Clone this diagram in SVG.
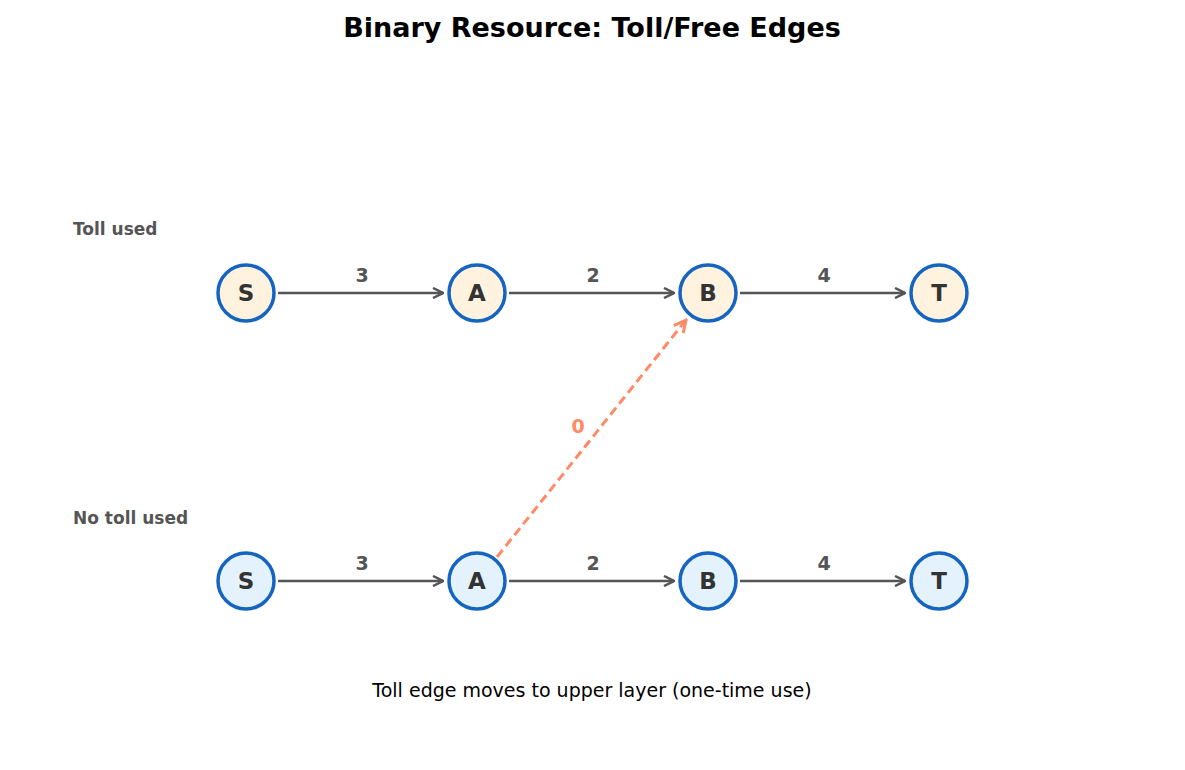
<svg xmlns="http://www.w3.org/2000/svg" width="1185" height="770" viewBox="0 0 1185 770">
<style>
text{font-family:"DejaVu Sans",sans-serif}
.n circle{stroke:#1565C0;stroke-width:3.5}
.up circle{fill:#FFF3E0}.lo circle{fill:#E3F2FD}
.n text{font-size:23px;font-weight:bold;fill:#333;text-anchor:middle;dominant-baseline:central}
.e{stroke:#555;stroke-width:2.5;fill:none;marker-end:url(#a)}
.el{font-size:19px;font-weight:bold;fill:#555;text-anchor:middle}
.ly{font-size:17px;font-weight:bold;fill:#555}
</style>
<defs>
<marker id="a" viewBox="0 0 10 10" refX="9" refY="5" markerWidth="5" markerHeight="5" orient="auto"><path d="M1,1 L9,5 L1,9" fill="none" stroke="#555" stroke-width="2"/></marker>
<marker id="b" viewBox="0 0 10 10" refX="9" refY="5" markerWidth="5" markerHeight="5" orient="auto"><path d="M1,1 L9,5 L1,9" fill="none" stroke="#FF8A65" stroke-width="2"/></marker>
</defs>
<rect width="1185" height="770" fill="#fff"/>
<text x="592" y="37" font-size="27" font-weight="bold" text-anchor="middle" fill="#000">Binary Resource: Toll/Free Edges</text>
<text class="ly" x="73" y="235">Toll used</text>
<text class="ly" x="73" y="524">No toll used</text>
<g id="connectors">
<line class="e" x1="278" y1="293" x2="443" y2="293"/>
<line class="e" x1="509" y1="293" x2="674" y2="293"/>
<line class="e" x1="740" y1="293" x2="905" y2="293"/>
<line class="e" x1="278" y1="581" x2="443" y2="581"/>
<line class="e" x1="509" y1="581" x2="674" y2="581"/>
<line class="e" x1="740" y1="581" x2="905" y2="581"/>
<line x1="497" y1="557" x2="686" y2="320" stroke="#FF8A65" stroke-width="3" stroke-dasharray="9,5" marker-end="url(#b)"/>
<text class="el" x="362" y="282">3</text><text class="el" x="593" y="282">2</text><text class="el" x="824" y="282">4</text>
<text class="el" x="362" y="570">3</text><text class="el" x="593" y="570">2</text><text class="el" x="824" y="570">4</text>
<text class="el" x="578" y="433" fill="#FF8A65" style="fill:#FF8A65">0</text>
</g>
<g id="S1" class="n up"><circle cx="246" cy="293" r="28"/><text x="246" y="293">S</text></g>
<g id="A1" class="n up"><circle cx="477" cy="293" r="28"/><text x="477" y="293">A</text></g>
<g id="B1" class="n up"><circle cx="708" cy="293" r="28"/><text x="708" y="293">B</text></g>
<g id="T1" class="n up"><circle cx="939" cy="293" r="28"/><text x="939" y="293">T</text></g>
<g id="S0" class="n lo"><circle cx="246" cy="581" r="28"/><text x="246" y="581">S</text></g>
<g id="A0" class="n lo"><circle cx="477" cy="581" r="28"/><text x="477" y="581">A</text></g>
<g id="B0" class="n lo"><circle cx="708" cy="581" r="28"/><text x="708" y="581">B</text></g>
<g id="T0" class="n lo"><circle cx="939" cy="581" r="28"/><text x="939" y="581">T</text></g>
<text x="592" y="697" font-size="19" text-anchor="middle" fill="#000">Toll edge moves to upper layer (one-time use)</text>
</svg>
